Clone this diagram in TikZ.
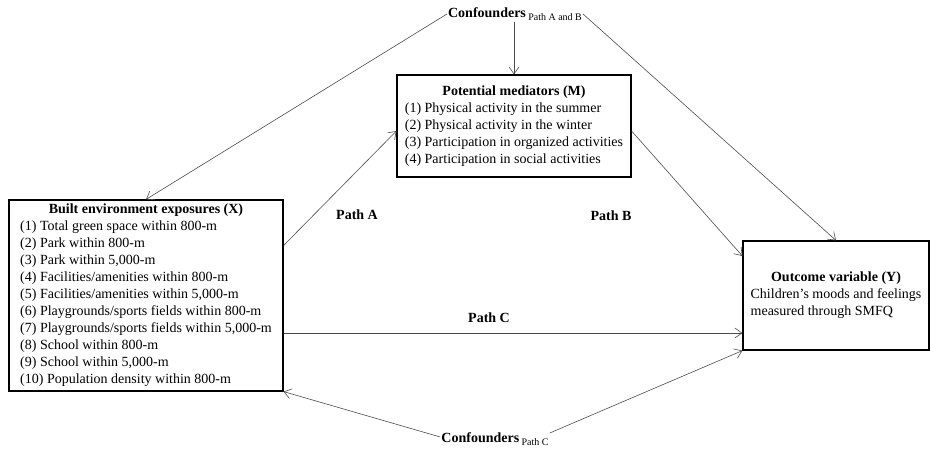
\documentclass[tikz,border=0pt]{standalone}
\usepackage{fontspec}
\setmainfont{Liberation Serif}
\usetikzlibrary{arrows.meta}
\begin{document}
\begin{tikzpicture}[x=1pt,y=-1pt,
  box/.style={draw=black, line width=1.2pt, inner sep=0pt,
    font=\fontsize{14}{17}\selectfont},
  link/.style={draw=black!70, line width=0.6pt,
    -{Straight Barb[length=7pt,width=10pt]}},
  lbl/.style={font=\fontsize{14}{17}\selectfont\bfseries, inner sep=1pt},
  conf/.style={font=\fontsize{14}{17}\selectfont, inner sep=1pt}]
\useasboundingbox (0,0) rectangle (930,451);

% exposure box
\node[box, minimum width=274pt, minimum height=191pt] (X) at (146,295.5)
  {\begin{tabular}{@{}l@{}}
   \multicolumn{1}{c}{\textbf{Built environment exposures (X)}}\\
   (1) Total green space within 800-m\\
   (2) Park within 800-m\\
   (3) Park within 5,000-m\\
   (4) Facilities/amenities within 800-m\\
   (5) Facilities/amenities within 5,000-m\\
   (6) Playgrounds/sports fields within 800-m\\
   (7) Playgrounds/sports fields within 5,000-m\\
   (8) School within 800-m\\
   (9) School within 5,000-m\\
   (10) Population density within 800-m
   \end{tabular}};

% mediator box
\node[box, minimum width=234pt, minimum height=102pt] (M) at (514,126)
  {\begin{tabular}{@{}l@{}}
   \multicolumn{1}{c}{\textbf{Potential mediators (M)}}\\
   (1) Physical activity in the summer\\
   (2) Physical activity in the winter\\
   (3) Participation in organized activities\\
   (4) Participation in social activities
   \end{tabular}};

% outcome box
\node[box, minimum width=186pt, minimum height=109pt] (Y) at (836,295.5)
  {\begin{tabular}{@{}l@{}}
   \multicolumn{1}{c}{\textbf{Outcome variable (Y)}}\\
   Children’s moods and feelings\\
   measured through SMFQ
   \end{tabular}};

% confounders
\node[conf] (CT) at (515,14)
  {\textbf{Confounders}\,\raisebox{-3pt}{\fontsize{10}{12}\selectfont Path A and B}};
\node[conf] (CB) at (495,439)
  {\textbf{Confounders}\,\raisebox{-3pt}{\fontsize{10}{12}\selectfont Path C}};

% path labels
\node[lbl] (PA) at (357,215) {Path A};
\node[lbl] (PB) at (611,216) {Path B};
\node[lbl] (PC) at (489,318) {Path C};

% connectors
\draw[link] (CT.west) -- (X.north);
\draw[link] (M.north |- CT.south) -- (M.north);
\draw[link] (CT.east) -- (Y.north);
\draw[link] ([yshift=50pt]X.east) -- ([yshift=-5pt]M.west);
\draw[link] ([yshift=-5pt]M.east) -- ([yshift=39.5pt]Y.west);
\draw[link] ([yshift=-37.5pt]X.east) -- ([yshift=-37.5pt]X.east -| Y.west);
\draw[link] ([yshift=2pt]CB.west) -- (X.south east);
\draw[link] ([yshift=6pt]CB.east) -- (Y.south west);
\end{tikzpicture}
\end{document}
